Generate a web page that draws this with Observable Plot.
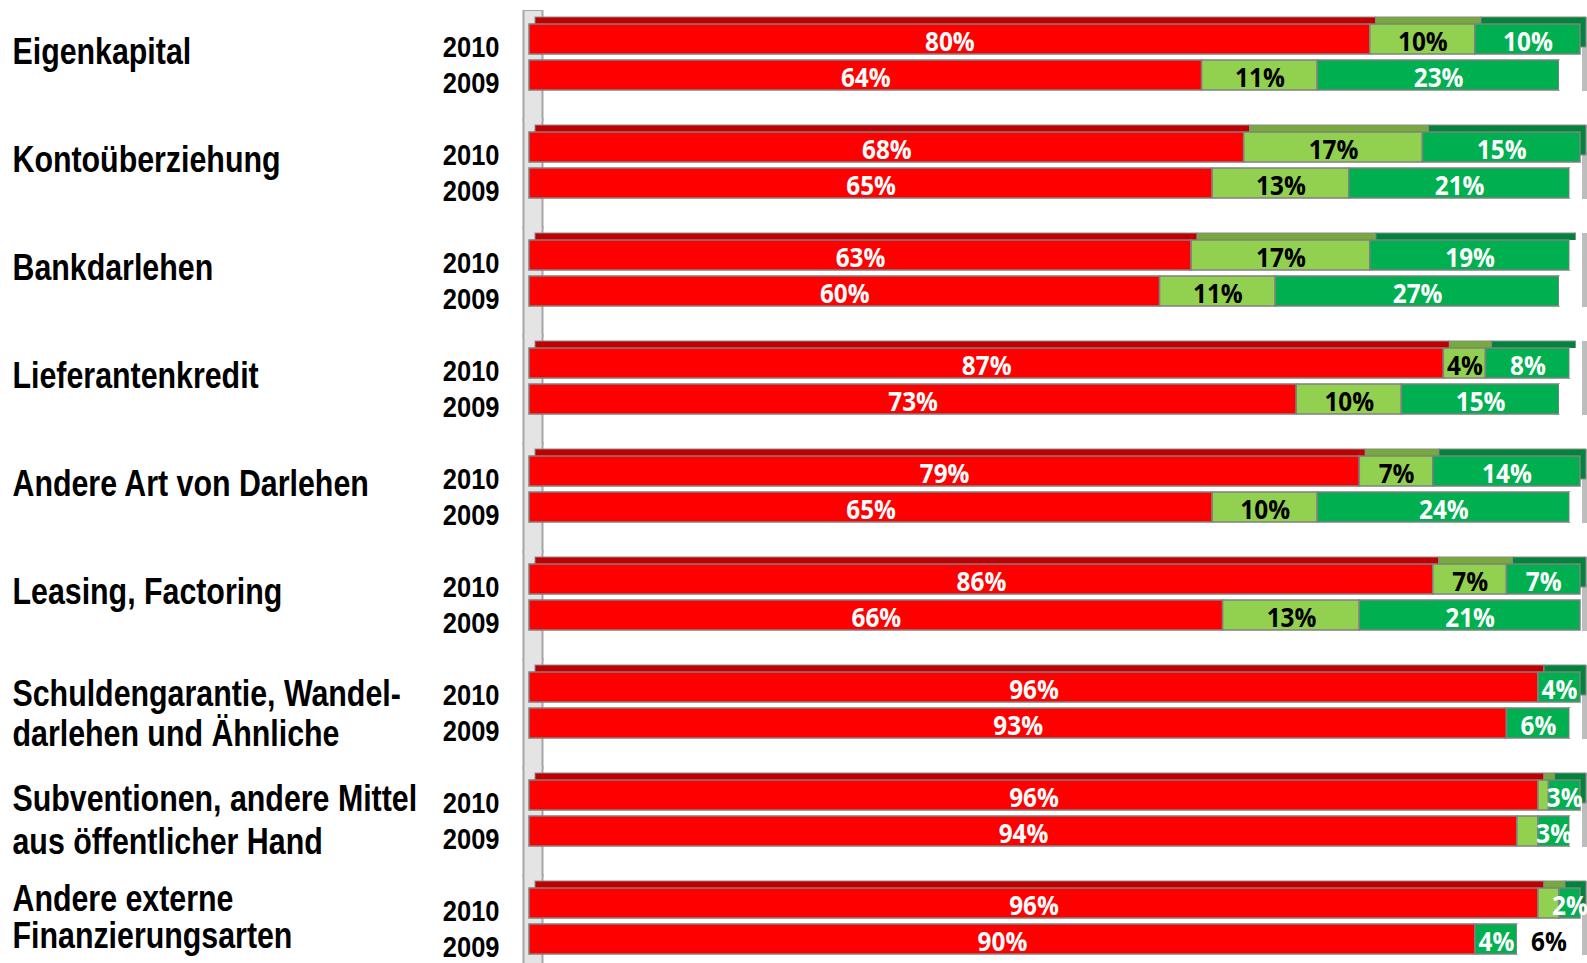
<!DOCTYPE html>
<html><head><meta charset="utf-8">
<script src="https://cdn.jsdelivr.net/npm/d3@7"></script>
<script src="https://cdn.jsdelivr.net/npm/@observablehq/plot@0.6"></script>
<style>body{margin:0;background:#fff} #chart svg{display:block}</style>
</head><body><div id="chart"></div><script>
const categories = ["Eigenkapital","Kontoüberziehung","Bankdarlehen","Lieferantenkredit","Andere Art von Darlehen","Leasing, Factoring","Schuldengarantie, Wandel-\ndarlehen und Ähnliche","Subventionen, andere Mittel\naus öffentlicher Hand","Andere externe\nFinanzierungsarten"];
const years = ["2010","2009"];
const series = ["rot","hellgruen","gruen","rest"];
const red2010   = [80,68,63,87,79,86,96,96,96];
const light2010 = [10,17,17, 4, 7, 7, 0, 1, 2];
const dark2010  = [10,15,19, 8,14, 7, 4, 3, 2];
const rest2010  = [ 0, 0, 1, 1, 0, 0, 0, 0, 0];
const red2009   = [64,65,60,73,65,66,93,94,90];
const light2009 = [11,13,11,10,10,13, 0, 2, 0];
const dark2009  = [23,21,27,15,24,21, 6, 3, 4];
const rest2009  = [ 2, 1, 2, 2, 1, 0, 1, 1, 6];

const fillOf  = {rot:"#ff0000", hellgruen:"#92d050", gruen:"#00b050", rest:"#ffffff"};
const topOf   = {rot:"#c00000", hellgruen:"#76ab3c", gruen:"#00843c", rest:"none"};
const labelOf = {rot:"#ffffff", hellgruen:"#000000", gruen:"#ffffff", rest:"#000000"};
const minLabel = {rot:1, hellgruen:4, gruen:1, rest:5};

const rows = [];
categories.forEach((c, i) => {
  const vals = {
    "2010": [red2010[i], light2010[i], dark2010[i], rest2010[i]],
    "2009": [red2009[i], light2009[i], dark2009[i], rest2009[i]]
  };
  years.forEach(y => series.forEach((s, k) => rows.push({cat: c, year: y, series: s, value: vals[y][k]})));
});
const yearRows = categories.flatMap(c => years.map(y => ({cat: c, year: y})));
const narrow = "'Liberation Sans', Arial, sans-serif";
const labelStyle = {frameAnchor: "left", textAnchor: "start", dx: -517, fontFamily: narrow, fontWeight: 700, fontSize: 37, fill: "#000", ariaDescription: "narrow"};

const chart = Plot.plot({
  width: 1587, height: 963,
  marginLeft: 529, marginRight: 7, marginTop: 22, marginBottom: 6,
  x: {domain: [0, 100], axis: null},
  y: {domain: years, axis: null, paddingInner: 0.16, paddingOuter: 0},
  fy: {domain: categories, axis: null, paddingInner: 0.382, paddingOuter: 0},
  color: {type: "identity"},
  marks: [
    Plot.ruleX([0], {x: d => d, stroke: "#a6a6a6", strokeWidth: 21, dx: 3.5, insetTop: -14, insetBottom: -30}),
    Plot.ruleX([0], {x: d => d, stroke: "#e4e4e4", strokeWidth: 17, dx: 3.5, insetTop: -13, insetBottom: -30}),
    Plot.ruleX([100], {x: d => d, stroke: "#bdbdbd", strokeWidth: 5, dx: 4, insetTop: -7}),
    Plot.barX(rows.filter(d => d.year === "2010"), Plot.stackX({
      x: "value", y: "year", fy: "cat", z: "series",
      fill: d => topOf[d.series], stroke: d => d.series === "rest" ? "none" : "#8c8c8c",
      strokeWidth: 1, dx: 6, dy: -7
    })),
    Plot.barX(rows, Plot.stackX({
      x: "value", y: "year", fy: "cat", z: "series",
      fill: d => fillOf[d.series], stroke: d => d.series === "rest" ? "none" : "#808080",
      strokeWidth: 1.5
    })),
    Plot.text(rows, Plot.stackX({
      x: "value", y: "year", fy: "cat", z: "series",
      text: d => d.value >= minLabel[d.series] ? d.value + "%" : "",
      fill: d => labelOf[d.series], dy: 3,
      fontFamily: "'Open Sans', sans-serif", fontWeight: 700, fontSize: 27,
      ariaDescription: "pct"
    })),
    Plot.text(yearRows, {
      y: "year", fy: "cat", text: "year", frameAnchor: "left", textAnchor: "end",
      dx: -30, dy: 8, fontFamily: narrow, fontWeight: 700, fontSize: 30, fill: "#000",
      ariaDescription: "years"
    }),
    Plot.text(categories.slice(0, 6), {fy: d => d, text: d => d, dy: -6, ...labelStyle}),
    Plot.text(categories.slice(6, 7), {fy: d => d, text: d => d, dy: 7, lineHeight: 1.1, ...labelStyle}),
    Plot.text(categories.slice(7, 8), {fy: d => d, text: d => d, dy: 4.5, lineHeight: 1.16, ...labelStyle}),
    Plot.text(categories.slice(8, 9), {fy: d => d, text: d => d, dy: -4, lineHeight: 0.98, ...labelStyle})
  ]
});
document.getElementById("chart").appendChild(chart);
// condense fonts horizontally (Arial Narrow / Calibri look)
function condense(sel, k) {
  d3.select(chart).selectAll(sel).each(function() {
    const tspans = this.querySelectorAll("tspan");
    const targets = tspans.length ? Array.from(tspans) : [this];
    targets.forEach(t => {
      const L = t.getComputedTextLength();
      if (!L) return;
      t.setAttribute("textLength", (L * k).toFixed(1));
      t.setAttribute("lengthAdjust", "spacingAndGlyphs");
    });
  });
}
condense("g[aria-description=narrow] text", 0.82);
condense("g[aria-description=years] text", 0.85);
condense("g[aria-description=pct] text", 0.9);
</script></body></html>
